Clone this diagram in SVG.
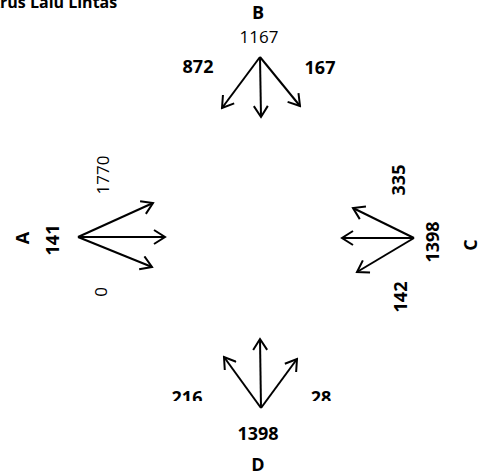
<svg xmlns="http://www.w3.org/2000/svg" width="485" height="473" viewBox="0 0 485 473">
  <style>
    .lbl { font-family: "Open Sans", "Liberation Sans", sans-serif; font-weight: bold; font-size: 18px; fill: #000; text-anchor: middle; }
    .thin { font-weight: normal; font-size: 17px; }
    .flow { stroke: #000; stroke-width: 2; fill: none; marker-end: url(#head); }
  </style>
  <defs>
    <marker id="head" viewBox="-12 -8 14 16" markerWidth="14" markerHeight="16" refX="0" refY="0" orient="auto" markerUnits="userSpaceOnUse">
      <path d="M-11,-7 L0,0 L-11,7" stroke="#000" stroke-width="2" fill="none"/>
    </marker>
    <clipPath id="lowCut">
      <rect x="0" y="0" width="485" height="401"/>
    </clipPath>
  </defs>
  <rect width="485" height="473" fill="#fff"/>

  <text class="lbl" x="-11" y="8" style="text-anchor:start;font-size:16px">Arus Lalu Lintas</text>

  <g id="connectors">
    <!-- B approach -->
    <line class="flow" x1="260" y1="57" x2="222" y2="108"/>
    <line class="flow" x1="260" y1="57" x2="261" y2="117"/>
    <line class="flow" x1="260" y1="57" x2="300" y2="106"/>
    <!-- A approach -->
    <line class="flow" x1="78" y1="237" x2="153" y2="203"/>
    <line class="flow" x1="78" y1="237" x2="165" y2="237"/>
    <line class="flow" x1="78" y1="237" x2="152" y2="267"/>
    <!-- C approach -->
    <line class="flow" x1="414" y1="238" x2="353" y2="208"/>
    <line class="flow" x1="414" y1="238" x2="342" y2="238"/>
    <line class="flow" x1="414" y1="238" x2="357" y2="272"/>
    <!-- D approach -->
    <line class="flow" x1="261" y1="408" x2="224" y2="357"/>
    <line class="flow" x1="261" y1="408" x2="260" y2="339"/>
    <line class="flow" x1="261" y1="408" x2="297" y2="359"/>
  </g>

  <g id="node-B">
    <text class="lbl" x="258" y="19">B</text>
    <text class="lbl thin" x="259" y="43">1167</text>
    <text class="lbl" x="198" y="73">872</text>
    <text class="lbl" x="320" y="74">167</text>
  </g>

  <g id="node-A">
    <text class="lbl" transform="translate(29,238) rotate(-90)">A</text>
    <text class="lbl" transform="translate(59,240) rotate(-90)">141</text>
    <text class="lbl thin" transform="translate(109,175) rotate(-90)">1770</text>
    <text class="lbl thin" transform="translate(107,292) rotate(-90)">0</text>
  </g>

  <g id="node-C">
    <text class="lbl" transform="translate(405,180) rotate(-90)">335</text>
    <text class="lbl" transform="translate(439,242) rotate(-90)">1398</text>
    <text class="lbl" transform="translate(477,245) rotate(-90)">C</text>
    <text class="lbl" transform="translate(407,297) rotate(-90)">142</text>
  </g>

  <g id="node-D">
    <g clip-path="url(#lowCut)">
      <text class="lbl" x="187" y="404">216</text>
      <text class="lbl" x="321" y="404">28</text>
    </g>
    <text class="lbl" x="258" y="440">1398</text>
    <text class="lbl" x="258" y="471">D</text>
  </g>
</svg>
